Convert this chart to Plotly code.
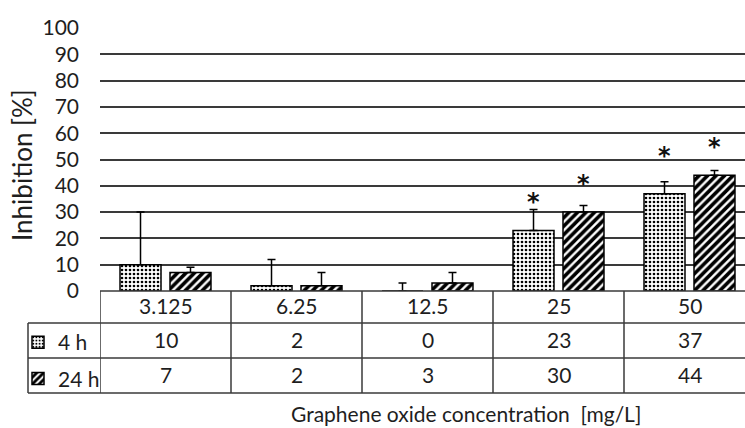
import plotly.graph_objects as go

# Graphene oxide concentrations (mg/L) and inhibition (%) after 4 h and 24 h
concentrations = ["3.125", "6.25", "12.5", "25", "50"]
inhibition_4h = [10, 2, 0, 23, 37]
inhibition_24h = [7, 2, 3, 30, 44]
err_4h = [20, 10, 3, 8, 4.5]
err_24h = [2, 5, 4, 2.5, 1.8]
series_names = ["4 h", "24 h"]
y_ticks = [0, 10, 20, 30, 40, 50, 60, 70, 80, 90, 100]

# significant differences: (series index, category index, label height)
significance = [(0, 3, 36), (1, 3, 43), (0, 4, 53.5), (1, 4, 57)]

FONT = "Lato"
LINE = "#3a3a3a"
TXT = "#1e1e1e"
W, H = 745, 428
L, T, B = 100, 28, 137
PLOT_W = W - L
PLOT_H = H - T - B
CAT_PX = 131

def py(pixel_y):
    """Convert a pixel row to paper y coordinate."""
    return (H - B - pixel_y) / PLOT_H

def px(pixel_x):
    return (pixel_x - L) / PLOT_W

fig = go.Figure()
patterns = [
    dict(shape=".", size=4, solidity=0.35, fgcolor="black", bgcolor="white", fgopacity=1),
    dict(shape="/", size=6, solidity=0.6, fgcolor="black", bgcolor="white", fgopacity=1),
]
for i, (name, vals, errs) in enumerate(
        [(series_names[0], inhibition_4h, err_4h),
         (series_names[1], inhibition_24h, err_24h)]):
    fig.add_trace(go.Bar(
        x=list(range(len(concentrations))), y=vals, name=name,
        legendgroup=name,
        marker=dict(color="white", pattern=patterns[i],
                    line=dict(color="black", width=1.5)),
        error_y=dict(type="data", array=errs, arrayminus=[0] * len(errs),
                     symmetric=False, color="black", thickness=1.5, width=4),
    ))

x_max = -0.5 + PLOT_W / CAT_PX
fig.update_layout(
    width=W, height=H,
    margin=dict(l=L, r=0, t=T, b=B),
    plot_bgcolor="white", paper_bgcolor="white",
    barmode="group", bargap=0.237, bargroupgap=0.18,
    font=dict(family=FONT, color=TXT),
    showlegend=True,
    legend=dict(x=px(18), y=py(322), xanchor="left", yanchor="top",
                font=dict(size=21, family=FONT, color=TXT),
                traceorder="grouped", tracegroupgap=6,
                itemwidth=30, bgcolor="rgba(0,0,0,0)"),
    xaxis=dict(range=[-0.5, x_max], showticklabels=False, showgrid=False,
               zeroline=False, showline=False, ticks=""),
    yaxis=dict(range=[0, 100], tickvals=y_ticks, showgrid=True,
               gridcolor=LINE, gridwidth=1.5, zeroline=False, showline=False,
               ticks="", tickfont=dict(size=21, family=FONT, color=TXT),
               ticklabelstandoff=20),
)

# axis titles
fig.add_annotation(text="Inhibition [%]", textangle=-90, xref="paper", yref="paper",
                   x=px(22), y=py(165), xanchor="center", yanchor="middle",
                   showarrow=False, font=dict(size=26, family=FONT, color=TXT))
fig.add_annotation(text="Graphene oxide concentration  [mg/L]", xref="paper", yref="paper",
                   x=px(466), y=py(414), xanchor="center", yanchor="middle",
                   showarrow=False, font=dict(size=21, family=FONT, color=TXT))

# significance asterisks
for s, c, h in significance:
    offset = -0.191 if s == 0 else 0.191
    fig.add_annotation(text="<b>*</b>", x=c + offset, y=h, xref="x", yref="y",
                       showarrow=False, yanchor="middle", yshift=-6,
                       font=dict(size=24, family="DejaVu Sans", color="#111"))

# data table below the chart
row_lines = [291, 323, 358, 393]
row_centers = [305, 339.5, 374.5]
fig.add_shape(type="line", xref="paper", yref="paper", x0=0, x1=1,
              y0=py(row_lines[0]), y1=py(row_lines[0]),
              line=dict(color=LINE, width=1.5))
for r in row_lines[1:]:
    fig.add_shape(type="line", xref="paper", yref="paper", x0=px(28), x1=1,
                  y0=py(r), y1=py(r), line=dict(color=LINE, width=1.5))
fig.add_shape(type="line", xref="paper", yref="paper", x0=px(28), x1=px(28),
              y0=py(row_lines[1]), y1=py(row_lines[3]), line=dict(color=LINE, width=1.5))
for k in range(len(concentrations)):
    fig.add_shape(type="line", xref="x", yref="paper", x0=k - 0.5, x1=k - 0.5,
                  y0=py(row_lines[0]), y1=py(row_lines[3]),
                  line=dict(color=LINE, width=1.5))

rows = [concentrations, inhibition_4h, inhibition_24h]
for ri, row in enumerate(rows):
    for k, v in enumerate(row):
        fig.add_annotation(text=str(v), x=k, y=py(row_centers[ri]), xref="x", yref="paper",
                           showarrow=False, xanchor="center", yanchor="middle",
                           font=dict(size=21, family=FONT, color=TXT))

fig.write_html("out.html")
